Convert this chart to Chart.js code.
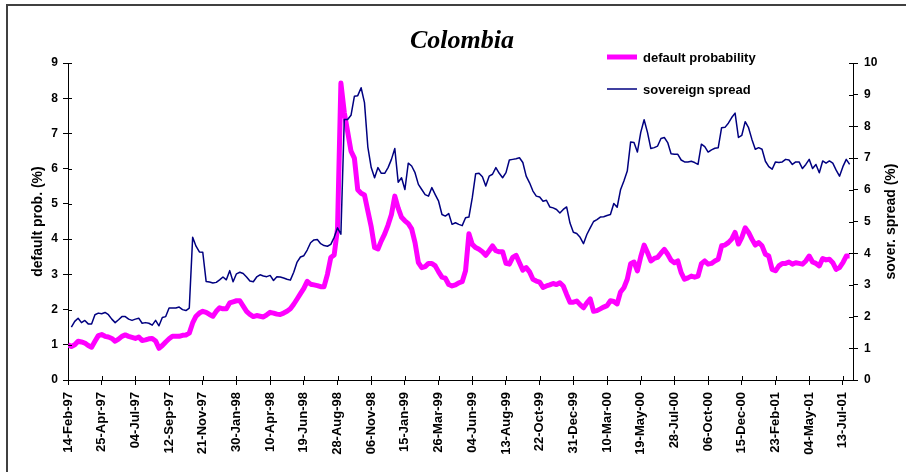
<!DOCTYPE html>
<html>
<head>
<meta charset="utf-8">
<title>Colombia</title>
<script src="https://cdn.jsdelivr.net/npm/chart.js@4/dist/chart.umd.min.js"></script>
<style>
  html, body { margin: 0; padding: 0; background: #fff; }
  canvas { display: block; }
</style>
</head>
<body>
<canvas id="chart" width="906" height="472"></canvas>
<script>
// x tick labels, one every 10 weeks
const tickLabels = ['14-Feb-97', '25-Apr-97', '04-Jul-97', '12-Sep-97', '21-Nov-97', '30-Jan-98',
    '10-Apr-98', '19-Jun-98', '28-Aug-98', '06-Nov-98', '15-Jan-99', '26-Mar-99', '04-Jun-99',
    '13-Aug-99', '22-Oct-99', '31-Dec-99', '10-Mar-00', '19-May-00', '28-Jul-00', '06-Oct-00',
    '15-Dec-00', '23-Feb-01', '04-May-01', '13-Jul-01'];

// weekly default probability (%), left axis
const defaultProb = [
    1.00, 0.95, 1.00, 1.10, 1.08, 1.05, 0.98, 0.93, 1.10, 1.26,
    1.29, 1.24, 1.22, 1.18, 1.10, 1.16, 1.24, 1.28, 1.24, 1.21,
    1.18, 1.22, 1.12, 1.14, 1.17, 1.18, 1.11, 0.90, 0.98, 1.08,
    1.17, 1.24, 1.24, 1.24, 1.27, 1.28, 1.33, 1.62, 1.81, 1.90,
    1.95, 1.92, 1.86, 1.81, 1.95, 2.05, 2.02, 2.02, 2.19, 2.22,
    2.25, 2.25, 2.10, 1.95, 1.86, 1.80, 1.83, 1.81, 1.79, 1.85,
    1.92, 1.90, 1.87, 1.86, 1.90, 1.95, 2.02, 2.15, 2.30, 2.45,
    2.60, 2.80, 2.72, 2.70, 2.68, 2.65, 2.65, 3.00, 3.48, 3.55,
    4.30, 8.43, 7.60, 7.05, 6.50, 6.30, 5.40, 5.30, 5.25, 4.80,
    4.35, 3.76, 3.72, 3.95, 4.15, 4.40, 4.70, 5.22, 4.88, 4.62,
    4.52, 4.44, 4.29, 3.90, 3.33, 3.19, 3.22, 3.31, 3.31, 3.24,
    3.07, 2.92, 2.89, 2.71, 2.67, 2.70, 2.76, 2.79, 3.10, 4.15,
    3.85, 3.76, 3.71, 3.64, 3.54, 3.67, 3.81, 3.67, 3.64, 3.64,
    3.31, 3.29, 3.48, 3.54, 3.33, 3.12, 3.19, 3.07, 2.86, 2.81,
    2.78, 2.63, 2.67, 2.70, 2.74, 2.71, 2.76, 2.67, 2.43, 2.21,
    2.21, 2.24, 2.14, 2.05, 2.19, 2.30, 1.95, 1.97, 2.02, 2.07,
    2.11, 2.25, 2.23, 2.16, 2.50, 2.62, 2.86, 3.30, 3.35, 3.10,
    3.50, 3.83, 3.62, 3.38, 3.45, 3.48, 3.60, 3.71, 3.57, 3.40,
    3.33, 3.38, 3.05, 2.86, 2.90, 2.95, 2.92, 2.95, 3.30, 3.38,
    3.29, 3.31, 3.38, 3.43, 3.81, 3.83, 3.90, 4.00, 4.19, 3.86,
    4.05, 4.32, 4.19, 4.00, 3.83, 3.90, 3.81, 3.57, 3.52, 3.14,
    3.10, 3.24, 3.31, 3.31, 3.35, 3.29, 3.33, 3.31, 3.29, 3.38,
    3.52, 3.35, 3.31, 3.24, 3.45, 3.41, 3.43, 3.33, 3.14, 3.19,
    3.33, 3.52, 3.52
];

// weekly sovereign spread (%), right axis
const sovSpread = [
    null, 1.67, 1.85, 1.95, 1.81, 1.88, 1.77, 1.77, 2.06, 2.11,
    2.09, 2.13, 2.06, 1.92, 1.81, 1.90, 2.00, 2.00, 1.92, 1.88,
    1.92, 1.95, 1.79, 1.81, 1.79, 1.73, 1.88, 1.71, 1.97, 2.00,
    2.27, 2.27, 2.27, 2.30, 2.22, 2.19, 2.27, 4.50, 4.22, 4.04,
    4.03, 3.11, 3.09, 3.06, 3.08, 3.16, 3.25, 3.16, 3.45, 3.10,
    3.35, 3.40, 3.36, 3.25, 3.12, 3.10, 3.25, 3.32, 3.28, 3.26,
    3.30, 3.14, 3.26, 3.25, 3.22, 3.18, 3.15, 3.40, 3.72, 3.88,
    3.92, 4.10, 4.33, 4.42, 4.43, 4.30, 4.24, 4.22, 4.28, 4.50,
    4.80, 4.60, 8.22, 8.22, 8.35, 8.95, 8.97, 9.22, 8.75, 7.35,
    6.70, 6.38, 6.70, 6.52, 6.52, 6.70, 6.96, 7.30, 6.24, 6.38,
    6.01, 6.84, 6.75, 6.54, 6.17, 6.01, 5.85, 5.80, 6.07, 5.85,
    5.64, 5.22, 5.17, 5.25, 4.91, 4.96, 4.91, 4.87, 5.12, 5.14,
    5.75, 6.51, 6.52, 6.41, 6.12, 6.43, 6.49, 6.70, 6.52, 6.38,
    6.54, 6.94, 6.96, 6.98, 7.01, 6.86, 6.43, 6.22, 5.96, 5.80,
    5.77, 5.64, 5.67, 5.46, 5.43, 5.38, 5.27, 5.38, 5.46, 4.95,
    4.66, 4.62, 4.50, 4.30, 4.59, 4.80, 5.00, 5.06, 5.14, 5.15,
    5.19, 5.22, 5.57, 5.45, 6.00, 6.28, 6.59, 7.51, 7.49, 7.19,
    7.81, 8.21, 7.81, 7.30, 7.33, 7.38, 7.62, 7.65, 7.49, 7.14,
    7.12, 7.12, 6.94, 6.88, 6.88, 6.90, 6.86, 6.80, 7.44, 7.36,
    7.19, 7.26, 7.31, 7.33, 7.96, 7.97, 8.10, 8.28, 8.42, 7.65,
    7.72, 8.15, 7.96, 7.59, 7.28, 7.33, 7.28, 6.90, 6.73, 6.65,
    6.88, 6.86, 6.88, 6.96, 6.94, 6.80, 6.88, 6.88, 6.67, 6.80,
    6.96, 6.67, 6.80, 6.54, 6.91, 6.84, 6.91, 6.84, 6.62, 6.43,
    6.73, 6.96, 6.80
];

const FONT = '"Liberation Sans", Arial, sans-serif';

// small tick stubs on the inner side of each axis, like the original
const innerTicks = {
    id: 'innerTicks',
    afterDatasetsDraw(chart) {
        const { ctx, chartArea: a, scales } = chart;
        ctx.save();
        ctx.strokeStyle = '#000';
        ctx.lineWidth = 1;
        ctx.beginPath();
        scales.x.ticks.forEach(t => {
            const px = Math.round(scales.x.getPixelForValue(t.value)) + 0.5;
            ctx.moveTo(px, a.bottom);
            ctx.lineTo(px, a.bottom - 4);
        });
        scales.y.ticks.forEach(t => {
            const py = Math.round(scales.y.getPixelForValue(t.value)) + 0.5;
            ctx.moveTo(a.left, py);
            ctx.lineTo(a.left + 4, py);
        });
        scales.y2.ticks.forEach(t => {
            const py = Math.round(scales.y2.getPixelForValue(t.value)) + 0.5;
            ctx.moveTo(a.right, py);
            ctx.lineTo(a.right - 4, py);
        });
        ctx.stroke();
        ctx.restore();
    }
};

// frame, title, axis titles and legend
const decor = {
    id: 'decor',
    afterDraw(chart) {
        const { ctx, chartArea: a } = chart;
        const midY = (a.top + a.bottom) / 2;
        ctx.save();

        ctx.strokeStyle = '#404040';
        ctx.lineWidth = 2;
        ctx.beginPath();
        ctx.moveTo(7, 472);
        ctx.lineTo(7, 5);
        ctx.lineTo(906, 5);
        ctx.stroke();

        ctx.fillStyle = '#000';
        ctx.textAlign = 'center';
        ctx.textBaseline = 'middle';
        ctx.font = 'italic bold 26px "Liberation Serif", "Times New Roman", serif';
        ctx.fillText('Colombia', 462, 41);

        ctx.font = 'bold 14px ' + FONT;
        [['default prob. (%)', 38], ['sover. spread (%)', 891]].forEach(([txt, x]) => {
            ctx.save();
            ctx.translate(x, midY);
            ctx.rotate(-Math.PI / 2);
            ctx.fillText(txt, 0, 0);
            ctx.restore();
        });

        ctx.textAlign = 'left';
        ctx.font = 'bold 13px ' + FONT;
        chart.data.datasets.forEach((ds, i) => {
            const y = 57 + i * 32;
            ctx.strokeStyle = ds.borderColor;
            ctx.lineWidth = ds.borderWidth;
            ctx.beginPath();
            ctx.moveTo(607, y);
            ctx.lineTo(637, y);
            ctx.stroke();
            ctx.fillText(ds.label, 643, y + 1);
        });

        ctx.restore();
    }
};

const axisStyle = {
    grid: { drawOnChartArea: false, tickLength: 5, color: '#000', tickColor: '#000' },
    border: { color: '#000', width: 1 }
};

new Chart(document.getElementById('chart'), {
    type: 'line',
    data: {
        datasets: [{
            label: 'default probability',
            data: defaultProb.map((v, i) => ({ x: i, y: v })),
            borderColor: '#ff00ff',
            borderWidth: 5,
            yAxisID: 'y',
            order: 1
        }, {
            label: 'sovereign spread',
            data: sovSpread.map((v, i) => ({ x: i, y: v })),
            borderColor: '#000080',
            borderWidth: 1.5,
            yAxisID: 'y2',
            order: 0
        }]
    },
    options: {
        responsive: false,
        animation: false,
        devicePixelRatio: 1,
        layout: { padding: { top: 63, left: 0, right: 0, bottom: 0 } },
        elements: { point: { radius: 0 }, line: { tension: 0, borderJoinStyle: 'round' } },
        plugins: { legend: { display: false }, tooltip: { enabled: false } },
        scales: {
            x: {
                type: 'linear',
                min: 0,
                max: 233,
                ...axisStyle,
                afterBuildTicks: s => { s.ticks = tickLabels.map((_, i) => ({ value: i * 10 })); },
                afterFit: s => { s.height = 92; },
                ticks: {
                    autoSkip: false,
                    maxRotation: 90,
                    minRotation: 90,
                    padding: 7,
                    color: '#000',
                    font: { family: FONT, size: 13, weight: 'bold' },
                    callback: v => tickLabels[Math.round(v / 10)]
                }
            },
            y: {
                position: 'left',
                min: 0,
                max: 9,
                ...axisStyle,
                afterFit: s => { s.width = 68; },
                ticks: { stepSize: 1, padding: 5, color: '#000', font: { family: FONT, size: 12, weight: 'bold' } }
            },
            y2: {
                position: 'right',
                min: 0,
                max: 10,
                ...axisStyle,
                afterFit: s => { s.width = 53; },
                ticks: { stepSize: 1, padding: 6, color: '#000', font: { family: FONT, size: 12, weight: 'bold' } }
            }
        }
    },
    plugins: [innerTicks, decor]
});
</script>
</body>
</html>
